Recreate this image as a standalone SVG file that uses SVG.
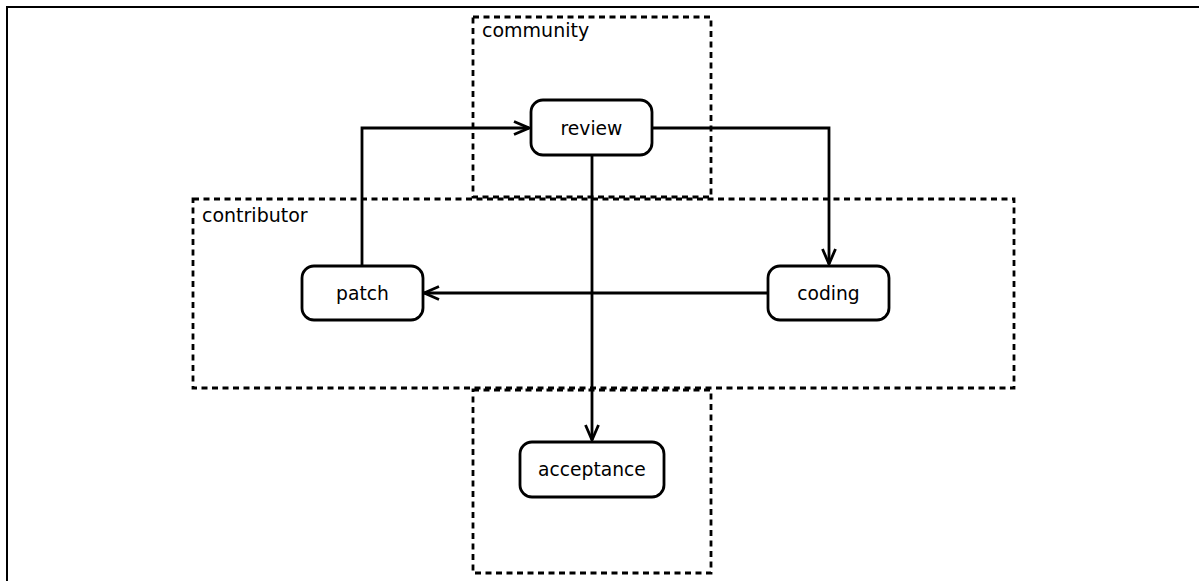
<svg xmlns="http://www.w3.org/2000/svg" width="1199" height="581" viewBox="0 0 1199 581">
<style>
.frame{fill:none;stroke:#000;stroke-width:2}
.zone{fill:none;stroke:#000;stroke-width:2.8;stroke-dasharray:6,4.5}
.node{fill:#fff;stroke:#000;stroke-width:2.8}
.lbl{font-family:"DejaVu Sans",sans-serif;font-size:19px;fill:#000}
.nlbl{font-family:"DejaVu Sans",sans-serif;font-size:18.7px;fill:#000;text-anchor:middle;dominant-baseline:central}
.edge{fill:none;stroke:#000;stroke-width:2.8}
</style>
<defs>
<marker id="arr" viewBox="0 0 18 16" refX="16.5" refY="8" markerWidth="18" markerHeight="16" markerUnits="userSpaceOnUse" orient="auto">
<path d="M1.5,1.5 L16.5,8 L1.5,14.5" fill="none" stroke="#000" stroke-width="2.8"/>
</marker>
</defs>
<rect class="frame" x="7" y="7" width="1210" height="600"/>
<g id="zone-community">
<rect class="zone" x="473" y="17" width="238" height="180"/>
<text class="lbl" x="482" y="37">community</text>
</g>
<g id="zone-contributor">
<rect class="zone" x="193" y="199" width="821" height="189"/>
<text class="lbl" x="202" y="222">contributor</text>
</g>
<g id="zone-acceptance">
<rect class="zone" x="473" y="390" width="238" height="183"/>
</g>
<g id="connectors">
<path class="edge" d="M362,266 V128 H529" marker-end="url(#arr)"/>
<path class="edge" d="M652,128 H829 V264" marker-end="url(#arr)"/>
<path class="edge" d="M768,293 H424" marker-end="url(#arr)"/>
<path class="edge" d="M592,155 V440" marker-end="url(#arr)"/>
</g>
<g id="node-review">
<rect class="node" x="531" y="100" width="121" height="55" rx="12"/>
<text class="nlbl" x="591.5" y="128">review</text>
</g>
<g id="node-patch">
<rect class="node" x="302" y="266" width="121" height="54" rx="12"/>
<text class="nlbl" x="362.5" y="293">patch</text>
</g>
<g id="node-coding">
<rect class="node" x="768" y="266" width="121" height="54" rx="12"/>
<text class="nlbl" x="828.5" y="293">coding</text>
</g>
<g id="node-acceptance">
<rect class="node" x="520" y="442" width="144" height="55" rx="12"/>
<text class="nlbl" x="592" y="469.5">acceptance</text>
</g>
</svg>
